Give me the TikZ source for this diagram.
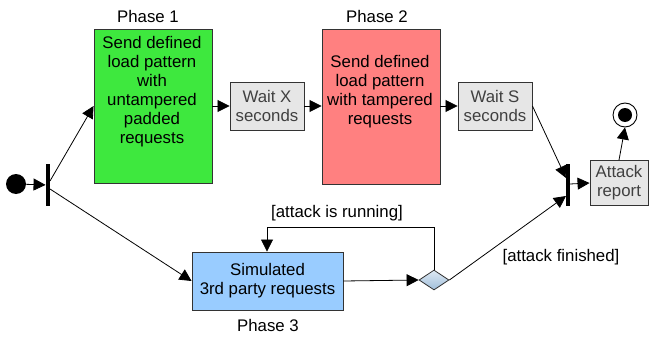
\documentclass[tikz,border=0pt]{standalone}
\usepackage{fontspec}
\setmainfont{Liberation Sans}
\usetikzlibrary{arrows.meta,shapes.geometric}
\definecolor{pgreen}{RGB}{62,232,62}
\definecolor{pred}{RGB}{255,128,128}
\definecolor{pblue}{RGB}{153,204,255}
\definecolor{pgray}{RGB}{230,230,230}
\definecolor{wtext}{RGB}{64,64,64}
\tikzset{
  box/.style={draw=black!80, line width=0.9pt, rectangle, inner sep=0pt},
  waitbox/.style={box, fill=pgray, minimum width=74pt, minimum height=48pt},
  txt/.style={align=center, inner sep=0pt, font=\fontsize{16.8}{19}\selectfont},
  lbl/.style={inner sep=0pt, font=\fontsize{16.8}{19}\selectfont},
  bar/.style={fill=black, draw=none, rectangle, minimum width=4.5pt, minimum height=42pt, inner sep=0pt},
  conn/.style={line width=0.8pt, -{Triangle[length=12pt,width=12pt]}},
}
\begin{document}
\begin{tikzpicture}[x=1pt,y=-1pt]
\useasboundingbox (0,0) rectangle (653,337);
% start
\node[circle, fill=black, minimum size=20pt, inner sep=0pt] (start) at (16,184) {};
\node[bar] (bar1) at (48,185) {};
\coordinate (f1a) at (50,181);
\coordinate (f1b) at (50,189);
% phase 1
\node[box, fill=pgreen, minimum width=118pt, minimum height=154pt] (p1) at (153,106) {};
\node[txt] (p1t) at (152,92) {Send defined\\ load pattern\\ with\\ untampered\\ padded\\ requests};
\node[lbl] (ph1) at (148,16) {Phase 1};
% wait X
\node[waitbox] (wx) at (267,106) {};
\node[txt, text=wtext] (wxt) at (267,106) {Wait X\\seconds};
% phase 2
\node[box, fill=pred, minimum width=118pt, minimum height=155pt] (p2) at (381,106.5) {};
\node[txt] (p2t) at (380,92) {Send defined\\ load pattern\\ with tampered\\ requests};
\node[lbl] (ph2) at (377,16) {Phase 2};
% wait S
\node[waitbox] (ws) at (495,106) {};
\node[txt, text=wtext] (wst) at (495,106) {Wait S\\seconds};
% join bar
\node[bar] (bar2) at (568,185) {};
\coordinate (j2a) at (566,178);
\coordinate (j2b) at (566,196);
\coordinate (j2c) at (570,184);
% attack report
\node[box, fill=pgray, minimum width=58pt, minimum height=45pt] (ar) at (619,183) {};
\node[txt, text=wtext] (art) at (619,183) {Attack\\report};
% end
\node[circle, draw=black, line width=0.9pt, fill=white, minimum size=24pt, inner sep=0pt] (endo) at (625,115) {};
\node[circle, fill=black, minimum size=14pt, inner sep=0pt] (endi) at (625,115) {};
% phase 3
\node[box, fill=pblue, minimum width=151pt, minimum height=58pt] (p3) at (267.5,281) {};
\node[txt] (p3t) at (267.5,281) {Simulated\\3rd party requests};
\node[lbl] (ph3) at (268,325) {Phase 3};
% decision
\node[diamond, draw=black!80, line width=0.8pt, top color={rgb,255:red,222;green,233;blue,243}, bottom color={rgb,255:red,160;green,190;blue,218}, minimum width=30pt, minimum height=20pt, inner sep=0pt] (dec) at (434,280) {};
\coordinate (lp1) at (434,227);
\coordinate (lp2) at (267,227);
\node[lbl] (run) at (337,213) {[attack is running]};
\node[lbl] (fin) at (561,257) {[attack finished]};
% connectors
\draw[conn] (start) -- (bar1);
\draw[conn] (f1a) -- (p1.west);
\draw[conn] (f1b) -- (p3.west);
\draw[conn] (p1.east |- wx.west) -- (wx.west);
\draw[conn] (wx.east) -- (p2.west |- wx.east);
\draw[conn] (p2.east |- ws.west) -- (ws.west);
\draw[conn] (ws.east) -- (j2a);
\draw[conn] (p3.east) -- (dec.west);
\draw[conn] (dec.north) -- (lp1) -- (lp2) -- (p3.north -| lp2);
\draw[conn] (dec.east) -- (j2b);
\draw[conn] (j2c) -- (ar.west);
\draw[conn] (ar.north) -- (endo.south);
\end{tikzpicture}
\end{document}
